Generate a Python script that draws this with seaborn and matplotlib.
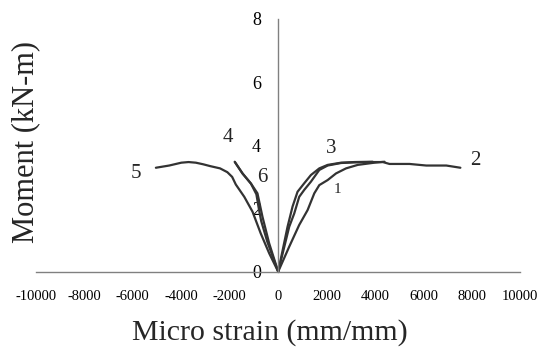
import matplotlib
matplotlib.use("Agg")
import matplotlib.pyplot as plt
import seaborn as sns
import pandas as pd

sns.set_style("white")
plt.rcParams['font.family'] = ['Liberation Serif', 'DejaVu Serif']

# Curve data (micro strain, moment kN-m)
c1_x = [0, 455, 869, 1215, 1491, 1698, 2043, 2388, 2802, 3285, 3975, 4390]
c1_y = [0, 0.79, 1.48, 1.95, 2.48, 2.74, 2.90, 3.11, 3.27, 3.38, 3.45, 3.48]

c2_x = [0, 455, 662, 869, 1077, 1353, 1698, 2043, 2595, 3147, 3768, 4320, 4596, 5424, 6115, 6943, 7523]
c2_y = [0, 1.42, 1.84, 2.37, 2.59, 2.85, 3.22, 3.36, 3.44, 3.46, 3.47, 3.47, 3.41, 3.41, 3.36, 3.36, 3.29]

c3_x = [0, 386, 593, 800, 1077, 1353, 1698, 2043, 2595, 3147, 3900]
c3_y = [0, 1.42, 2.06, 2.53, 2.80, 3.06, 3.27, 3.38, 3.45, 3.47, 3.48]

c4_x = [-1794, -1477, -1132, -856, -649, -373, 0]
c4_y = [3.48, 3.11, 2.80, 2.48, 1.74, 0.90, 0]

c5_x = [-5050, -4500, -4000, -3700, -3400, -3100, -2800, -2400, -2100, -1900, -1750, -1400, -1060, -720, -370, 0]
c5_y = [3.29, 3.36, 3.45, 3.47, 3.45, 3.40, 3.34, 3.27, 3.15, 3.00, 2.76, 2.37, 1.90, 1.21, 0.58, 0]

c6_x = [-1790, -1460, -1120, -900, -800, -700, -450, 0]
c6_y = [3.47, 3.10, 2.78, 2.45, 2.00, 1.60, 0.95, 0]

curves = {"1": (c1_x, c1_y), "2": (c2_x, c2_y), "3": (c3_x, c3_y),
          "4": (c4_x, c4_y), "5": (c5_x, c5_y), "6": (c6_x, c6_y)}

label_names = ["1", "2", "3", "4", "5", "6"]
label_x = [2436, 8132, 2195, -2083, -5893, -662]
label_y = [2.59, 3.51, 3.90, 4.25, 3.11, 2.97]
label_sizes = [11, 15, 15, 15, 15, 15]

x_ticks = [-10000, -8000, -6000, -4000, -2000, 0, 2000, 4000, 6000, 8000, 10000]
y_ticks = [0, 2, 4, 6, 8]

rows = []
for name, (xs, ys) in curves.items():
    for i, (a, b) in enumerate(zip(xs, ys)):
        rows.append({"curve": name, "order": i, "strain": a, "moment": b})
df = pd.DataFrame(rows)

fig = plt.figure(figsize=(5.43, 3.51), dpi=100)
ax = fig.add_axes([0.0663, 0.226, 0.892, 0.72])

for name in curves:
    sub = df[df.curve == name]
    sns.lineplot(data=sub, x="strain", y="moment", sort=False, ax=ax,
                 color="#333333", linewidth=1.6, estimator=None)

ax.set_xlim(-10000, 10000)
ax.set_ylim(0, 8)
ax.set_xticks(x_ticks)
ax.set_xticklabels([f"{t}" for t in x_ticks])
ax.set_yticks(y_ticks)
ax.set_yticklabels([str(t) for t in y_ticks])

ax.spines['left'].set_position(('data', 0))
ax.spines['right'].set_visible(False)
ax.spines['top'].set_visible(False)
for s in ['left', 'bottom']:
    ax.spines[s].set_color('#808080')
    ax.spines[s].set_linewidth(1.0)
ax.tick_params(axis='both', direction='out', length=3.5, width=1, color='#808080', labelcolor='black')
ax.tick_params(axis='y', pad=9, labelsize=13)
ax.tick_params(axis='x', pad=10, labelsize=10.5)

ax.set_xlabel("")
ax.set_ylabel("")
fig.text(0.497, 0.052, "Micro strain (mm/mm)", fontsize=21.5, ha='center', va='center')
fig.text(0.048, 0.595, "Moment (kN-m)", fontsize=22, ha='center', va='center', rotation=90)

for n, lx, ly, fs in zip(label_names, label_x, label_y, label_sizes):
    ax.text(lx, ly, n, fontsize=fs, ha='center', va='center')

fig.savefig("out.png", dpi=100)
